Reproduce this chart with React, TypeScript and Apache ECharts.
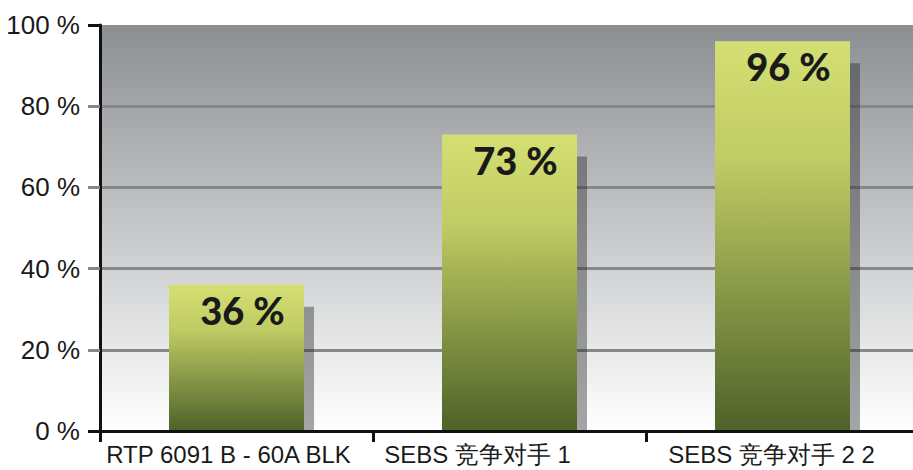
import React, { useEffect, useRef } from "react";
import * as echarts from "echarts";

const categories = ["RTP 6091 B - 60A BLK", "SEBS 竞争对手 1", "SEBS 竞争对手 2 2"];
const values = [36, 73, 96];
const labelShift = [16, 64, 22];

export default function App() {
  const ref = useRef<HTMLDivElement>(null);
  useEffect(() => {
    if (!ref.current) return;
    const chart = echarts.init(ref.current, undefined, { renderer: "svg" });
    const BAR_W = 135;
    const option: any = {
      animation: false,
      backgroundColor: "#ffffff",
      grid: {
        left: 100,
        top: 25,
        bottom: 39,
        width: 819,
        outerBoundsMode: "none",
        show: true,
        borderWidth: 0,
        backgroundColor: {
          type: "linear",
          x: 0,
          y: 0,
          x2: 0,
          y2: 1,
          colorStops: [
            { offset: 0, color: "#8c8f92" },
            { offset: 1, color: "#ffffff" },
          ],
        },
      },
      xAxis: [
        {
          type: "category",
          data: categories.map((c, i) => ({
            value: c,
            textStyle: { padding: [0, labelShift[i], 0, 0] },
          })),
          axisLine: { lineStyle: { color: "#111", width: 3 } },
          axisTick: { show: true, interval: 0, length: 11, lineStyle: { color: "#111", width: 3 } },
          axisLabel: {
            interval: 0,
            fontFamily: "Liberation Sans",
            fontSize: 24,
            color: "#1a1a1a",
            margin: 11,
          },
          z: 5,
        },
        {
          type: "category",
          position: "top",
          data: categories,
          axisLine: { show: true, lineStyle: { color: "#111", width: 3 } },
          axisTick: { show: false },
          axisLabel: { show: false },
          z: 5,
        },
      ],
      yAxis: [
        {
          type: "value",
          min: 0,
          max: 100,
          interval: 20,
          axisLine: { show: true, lineStyle: { color: "#111", width: 3 } },
          axisTick: {
            show: true,
            length: 12,
            customValues: [20, 40, 60, 80],
            lineStyle: { color: "#85878a", width: 3 },
          },
          axisLabel: {
            formatter: "{value} %",
            fontFamily: "Liberation Sans",
            fontSize: 26,
            color: "#1a1a1a",
            margin: 20,
          },
          splitLine: {
            show: true,
            lineStyle: { color: "#85878a", width: 3 },
          },
        },
        {
          type: "value",
          min: 0,
          max: 100,
          interval: 20,
          position: "left",
          axisLine: { show: false },
          axisTick: {
            show: true,
            length: 12,
            customValues: [0, 100],
            lineStyle: { color: "#111", width: 3 },
          },
          axisLabel: { show: false },
          splitLine: { show: false },
        },
      ],
      series: [
        {
          type: "custom",
          data: values.map((v, i) => [i, v]),
          z: 1,
          renderItem: (params: any, api: any) => {
            const p = api.coord([api.value(0), api.value(1)]);
            const base = api.coord([api.value(0), 0]);
            return {
              type: "rect",
              shape: {
                x: p[0] - BAR_W / 2 + 10,
                y: p[1] + 22,
                width: BAR_W,
                height: base[1] - p[1] - 22,
              },
              style: { fill: "rgba(30,32,34,0.4)" },
            };
          },
        },
        {
          type: "bar",
          data: values,
          barWidth: BAR_W,
          z: 3,
          itemStyle: {
            color: {
              type: "linear",
              x: 0,
              y: 0,
              x2: 0,
              y2: 1,
              colorStops: [
                { offset: 0, color: "#d4df73" },
                { offset: 0.3, color: "#c0cc64" },
                { offset: 1, color: "#4e6128" },
              ],
            },
          },
          label: {
            show: true,
            position: "insideTop",
            distance: 6,
            offset: [6, 0],
            formatter: "{c} %",
            fontFamily: "Lato",
            fontWeight: 900,
            fontSize: 38,
            color: "#1a1a1a",
          },
        },
      ],
    };
    chart.setOption(option);
    return () => chart.dispose();
  }, []);
  return (
    <div
      ref={ref}
      style={{ position: "fixed", left: 0, top: 0, width: 913, height: 470 }}
    />
  );
}
